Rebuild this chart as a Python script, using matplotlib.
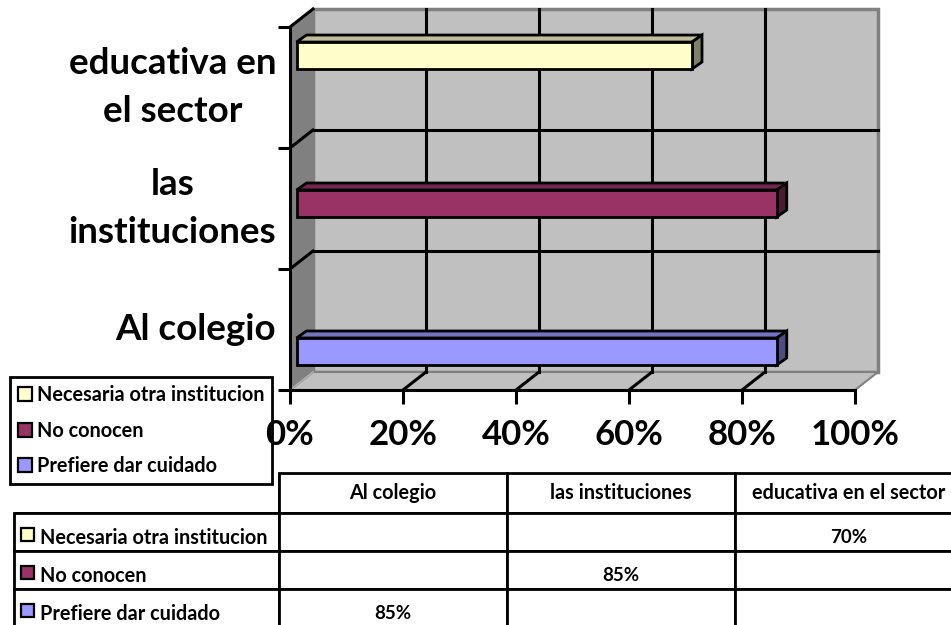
import matplotlib
matplotlib.use('Agg')
import matplotlib.pyplot as plt
from matplotlib.patches import Patch, Rectangle
from matplotlib.transforms import Affine2D

plt.rcParams['font.family'] = ['Lato', 'DejaVu Sans']
plt.rcParams['font.weight'] = 'bold'

categorias = ['Al colegio', 'las instituciones', 'educativa en el sector']
etiquetas_eje = ['Al colegio', 'las\ninstituciones', 'educativa en\nel sector']
series = ['Prefiere dar cuidado', 'No conocen', 'Necesaria otra institucion']
prefiere = [85, None, None]
no_conocen = [None, 85, None]
necesaria = [None, None, 70]
valores = [prefiere, no_conocen, necesaria]
xticks = [0, 20, 40, 60, 80, 100]

col_frente = ['#9999FF', '#993366', '#FFFFCC']
col_techo = ['#7373BF', '#732650', '#BFBF99']
col_lado = ['#4D4D80', '#4D1A33', '#808066']

W, H = 951, 625
fig = plt.figure(figsize=(W/100, H/100), dpi=100)
ax = fig.add_axes([290/W, 1-390/H, 565/W, 363/H])
ax.set_xlim(0, 100)
ax.set_ylim(0, 3)
ax.patch.set_visible(False)
ax.set_axisbelow(False)

# pixel -> data
px = 100/565
py = 3/363
fx, fy = 23*px, 18*py  # profundidad de la caja
gris = '#808080'

# paredes
ax.fill([fx, 100+fx, 100+fx, fx], [fy, fy, 3+fy, 3+fy], fc='#C0C0C0', ec=gris, lw=2.5, clip_on=False, zorder=1)
ax.fill([0, 100, 100+fx, fx], [0, 0, fy, fy], fc='#C0C0C0', ec=gris, lw=1.5, clip_on=False, zorder=1)
ax.fill([0, fx, fx, 0], [0, fy, 3+fy, 3], fc=gris, ec=gris, lw=1, clip_on=False, zorder=1)
ax.plot([0, fx], [0, fy], color='#B0B0B0', lw=1.2, clip_on=False, zorder=1.2)

for x in xticks[1:-1]:
    ax.plot([x+fx, x+fx], [fy, 3+fy], color='k', lw=2.2, clip_on=False, zorder=1.5)
    ax.plot([x, x+fx], [0, fy], color='k', lw=2.2, clip_on=False, zorder=1.5)
for y in [1, 2]:
    ax.plot([fx, 100+fx], [y+fy, y+fy], color='k', lw=2.2, clip_on=False, zorder=1.5)
for y in [1, 2, 3]:
    ax.plot([0, fx], [y, y+fy], color='k', lw=2.2, clip_on=False, zorder=1.5)

# barras 3D
alto = 0.223
bx, by = 6.5*px, 5*py
tx, ty = 10*px, 7*py
for s, vals in enumerate(valores):
    for c, v in enumerate(vals):
        if v is None:
            continue
        yc = c + 0.5 + (s-1)*alto + by
        x0, x1 = bx, v + bx
        y0, y1 = yc - alto/2, yc + alto/2
        ax.fill([x0, x1, x1+tx, x0+tx], [y1, y1, y1+ty, y1+ty], fc=col_techo[s], ec='k', lw=2, clip_on=False, zorder=3)
        ax.fill([x1, x1+tx, x1+tx, x1], [y0, y0+ty, y1+ty, y1], fc=col_lado[s], ec='k', lw=2, clip_on=False, zorder=3)
        ax.barh(yc, v, left=bx, height=alto, color=col_frente[s], edgecolor='k', lw=2, clip_on=False, zorder=3)

# ejes
for lado in ['top', 'right']:
    ax.spines[lado].set_visible(False)
for lado in ['left', 'bottom']:
    ax.spines[lado].set_linewidth(2.2)
ax.set_xticks(xticks, [f'{x}%' for x in xticks], fontsize=25, fontweight='bold')
ax.tick_params(axis='x', length=10, width=2.2, pad=11)
ax.set_yticks([0, 1, 2, 3], [])
ax.tick_params(axis='y', which='major', length=9, width=2.2)
ax.set_yticks([0.5, 1.5, 2.5], etiquetas_eje, minor=True, fontsize=26.5, fontweight='bold',
              multialignment='center', linespacing=1.58)
ax.tick_params(axis='y', which='minor', length=0, pad=10)
plt.setp(ax.get_yticklabels(minor=True), va='center')

# leyenda
handles = [Patch(fc=col_frente[s], ec='k', lw=1.6, label=series[s]) for s in [2, 1, 0]]
leg = ax.legend(handles=handles, loc='lower left', bbox_to_anchor=(10/W, 1-484/H), bbox_transform=fig.transFigure,
                fontsize=14.3, frameon=True, fancybox=False, edgecolor='k', framealpha=1, borderaxespad=0,
                handlelength=0.7, handleheight=0.7, handletextpad=0.25, labelspacing=0.78, borderpad=0.4)
leg.get_frame().set_linewidth(2)
leg.set_zorder(2)

# tabla de datos
tax = fig.add_axes([14/W, 1-627/H, (962-14)/W, (627-473)/H])
tax.set_xlim(14, 962)
tax.set_ylim(627, 473)
tax.axis('off')
tax.patch.set_visible(False)

filas = [[''] + categorias]
alturas = [40, 38, 38, 38]
for s in [2, 1, 0]:
    filas.append([series[s]] + ['' if v is None else f'{v}%' for v in valores[s]])
anchos = [265, 228, 228, 227]
tabla = tax.table(cellText=filas, colWidths=[a/948 for a in anchos], cellLoc='center', bbox=[0, 0, 1, 1])
tabla.auto_set_font_size(False)
for (f, c), celda in tabla.get_celld().items():
    celda.set_height(alturas[f]/154)
    celda.set_linewidth(2)
    celda.get_text().set_fontsize(14.3 if c == 0 or f == 0 else 13.5)
    celda.get_text().set_fontweight('bold')
    if f > 0:
        celda.get_text().set_transform(Affine2D().translate(0, -5.5))
    if c == 0:
        celda.get_text().set_ha('left')
        celda._loc = 'left'
        celda.PAD = 26/265
tabla[0, 0].visible_edges = 'BR'
tabla[0, 0].set_facecolor('none')

y_fila = 513
for f, s in enumerate([2, 1, 0]):
    tax.add_patch(Rectangle((21, y_fila + f*38 + 15), 13, 13, fc=col_frente[s], ec='k', lw=1.6, clip_on=False))

fig.savefig('out.png', dpi=100)
